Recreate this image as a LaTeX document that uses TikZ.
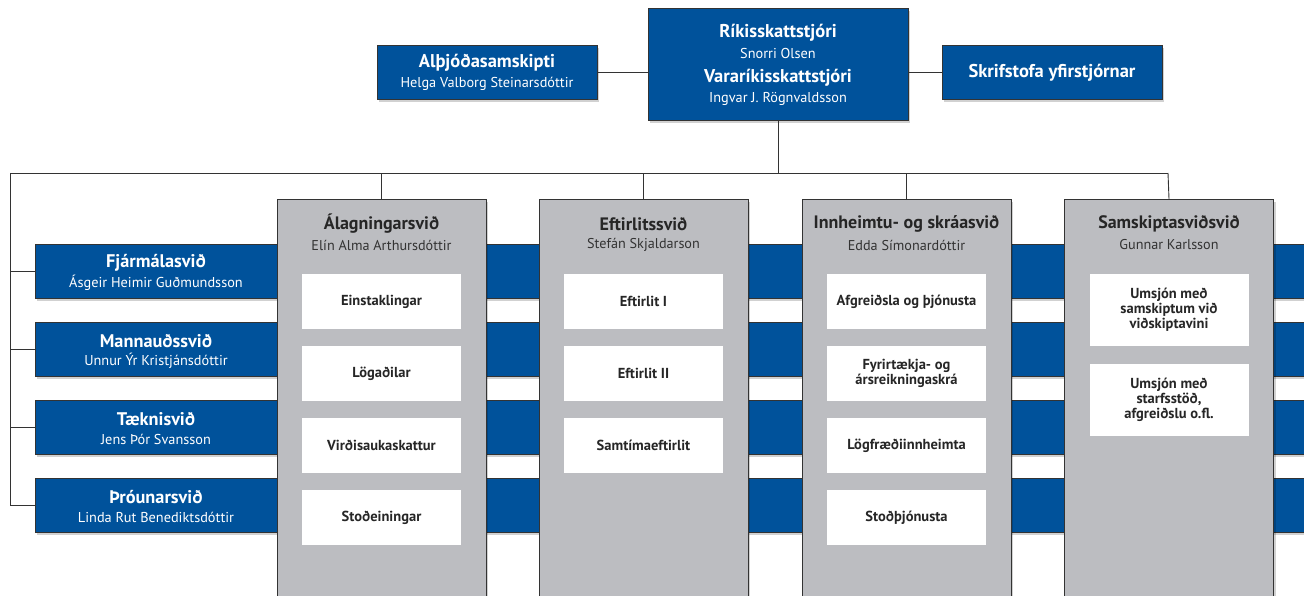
\documentclass[tikz,border=0pt]{standalone}
\usepackage{fontspec}
\setmainfont{PT Sans}
\usetikzlibrary{shadows}
\definecolor{myblue}{HTML}{00529B}
\definecolor{colgray}{HTML}{BCBDC1}
\definecolor{lineC}{HTML}{333333}
\begin{document}
\begin{tikzpicture}[x=1pt,y=-1pt,
  conn/.style={draw=lineC,line width=0.9pt},
  shad/.style={drop shadow={shadow xshift=2pt,shadow yshift=-3pt,opacity=0.18,fill=black}},
  bluebox/.style={shad,fill=myblue,draw=lineC,line width=0.8pt,inner sep=0pt},
  colbox/.style={shad,fill=colgray,draw=lineC,line width=0.8pt,inner sep=0pt,minimum width=209pt,minimum height=402pt,anchor=north},
  wbox/.style={fill=white,draw=none,inner sep=0pt,minimum width=159pt,minimum height=55pt,align=center,font=\fontsize{14.5}{15}\selectfont\bfseries,text=black!85},
  ttitle/.style={text=white,font=\fontsize{18.5}{20}\selectfont\bfseries,inner sep=0pt},
  tsub/.style={text=white,font=\fontsize{14.3}{16}\selectfont,inner sep=0pt},
  wtitle/.style={text=white,font=\fontsize{18.3}{20}\selectfont\bfseries,inner sep=0pt},
  wsub/.style={text=white,font=\fontsize{14.3}{16}\selectfont,inner sep=0pt},
  ctitle/.style={text=black!85,font=\fontsize{18}{20}\selectfont\bfseries,inner sep=0pt},
  csub/.style={text=black!80,font=\fontsize{14.2}{16}\selectfont,inner sep=0pt}]
\useasboundingbox (0,0) rectangle (1304,596);

% top row
\node[bluebox,minimum width=260pt,minimum height=112pt] (rsk) at (778,64) {};
\node[bluebox,minimum width=220pt,minimum height=54pt] (alth) at (487,72) {};
\node[bluebox,minimum width=220pt,minimum height=54pt] (skr) at (1052,72) {};
\node[ttitle] (rskT) at (778,33) {Ríkisskattstjóri};
\node[tsub] (rskS) at (778,53) {Snorri Olsen};
\node[ttitle] (vrT) at (778,78) {Vararíkisskattstjóri};
\node[tsub] (vrS) at (778,99) {Ingvar J. Rögnvaldsson};
\node[ttitle] (althT) at (487,63) {Alþjóðasamskipti};
\node[tsub] (althS) at (487,84) {Helga Valborg Steinarsdóttir};
\node[ttitle] (skrT) at (1052,73) {Skrifstofa yfirstjórnar};
\draw[conn] (alth.east) -- (alth.east -| rsk.west);
\draw[conn] (skr.west) -- (skr.west -| rsk.east);

% tree coordinates
\coordinate (hl) at (10,173);
\coordinate (hr) at (1168,173);

% blue bars
\node[bluebox,anchor=west,minimum width=1290pt,minimum height=54pt] (barA) at (35,271) {};
\node[bluebox,anchor=west,minimum width=1290pt,minimum height=54pt] (barB) at (35,349) {};
\node[bluebox,anchor=west,minimum width=1290pt,minimum height=54pt] (barC) at (35,427) {};
\node[bluebox,anchor=west,minimum width=1290pt,minimum height=54pt] (barD) at (35,505) {};
\node[wtitle] (barAT) at (156,263) {Fjármálasvið};
\node[wsub] (barAS) at (156,283) {Ásgeir Heimir Guðmundsson};
\node[wtitle] (barBT) at (156,341) {Mannauðssvið};
\node[wsub] (barBS) at (156,361) {Unnur Ýr Kristjánsdóttir};
\node[wtitle] (barCT) at (156,419) {Tæknisvið};
\node[wsub] (barCS) at (156,439) {Jens Þór Svansson};
\node[wtitle] (barDT) at (156,497) {Þróunarsvið};
\node[wsub] (barDS) at (156,517) {Linda Rut Benediktsdóttir};

% columns
\node[colbox] (colA) at (381.5,199) {};
\node[colbox] (colB) at (643.5,199) {};
\node[colbox] (colC) at (906.5,199) {};
\node[colbox] (colD) at (1169,199) {};

% tree lines
\draw[conn] (rsk.south) -- (rsk.south |- hl);
\draw[conn] (hl) -- (hr);
\draw[conn] (colA.north) -- (colA.north |- hl);
\draw[conn] (colB.north) -- (colB.north |- hl);
\draw[conn] (colC.north) -- (colC.north |- hl);
\draw[conn] (colD.north) -- (hr);
\draw[conn] (hl) |- (barD.west);
\draw[conn] (barA.west -| hl) -- (barA.west);
\draw[conn] (barB.west -| hl) -- (barB.west);
\draw[conn] (barC.west -| hl) -- (barC.west);

% column titles
\node[ctitle] (colAT) at (381.5,224) {Álagningarsvið};
\node[csub] (colAS) at (381.5,245) {Elín Alma Arthursdóttir};
\node[ctitle] (colBT) at (643.5,224) {Eftirlitssvið};
\node[csub] (colBS) at (643.5,245) {Stefán Skjaldarson};
\node[ctitle] (colCT) at (906.5,224) {Innheimtu- og skráasvið};
\node[csub] (colCS) at (906.5,245) {Edda Símonardóttir};
\node[ctitle] (colDT) at (1169,224) {Samskiptasviðsvið};
\node[csub] (colDS) at (1169,245) {Gunnar Karlsson};

% white boxes
\node[wbox] (a1) at (381.5,301.5) {Einstaklingar};
\node[wbox] (a2) at (381.5,373.5) {Lögaðilar};
\node[wbox] (a3) at (381.5,445.5) {Virðisaukaskattur};
\node[wbox] (a4) at (381.5,517.5) {Stoðeiningar};
\node[wbox] (b1) at (643.5,301.5) {Eftirlit I};
\node[wbox] (b2) at (643.5,373.5) {Eftirlit II};
\node[wbox] (b3) at (643.5,445.5) {Samtímaeftirlit};
\node[wbox] (c1) at (906.5,301.5) {Afgreiðsla og þjónusta};
\node[wbox] (c2) at (906.5,373.5) {Fyrirtækja- og\\ársreikningaskrá};
\node[wbox] (c3) at (906.5,445.5) {Lögfræðiinnheimta};
\node[wbox] (c4) at (906.5,517.5) {Stoðþjónusta};
\node[wbox,minimum height=72pt] (d1) at (1169,310) {Umsjón með\\samskiptum við\\viðskiptavini};
\node[wbox,minimum height=72pt] (d2) at (1169,400) {Umsjón með\\starfsstöð,\\afgreiðslu o.fl.};
\end{tikzpicture}
\end{document}
